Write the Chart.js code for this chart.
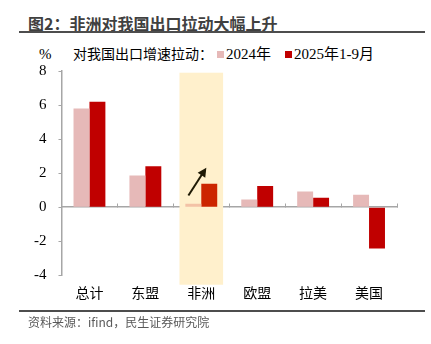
<!DOCTYPE html>
<html>
<head>
<meta charset="utf-8">
<script src="https://cdn.jsdelivr.net/npm/chart.js@4.4.0/dist/chart.umd.min.js"></script>
<style>
  body { margin: 0; width: 431px; height: 344px; background: #fff; position: relative; overflow: hidden;
         font-family: "Noto Sans CJK SC", sans-serif; }
  #title { position: absolute; left: 28px; top: 12px; font-size: 16px; font-weight: bold; color: #404040; line-height: 22px; white-space: nowrap; }
  .rule { position: absolute; left: 19px; width: 406px; height: 2px; background: #4d4d4d; }
  #legend { position: absolute; left: 39px; top: 44px; font-size: 15px; line-height: 20px; color: #000; white-space: nowrap;
            font-family: "Liberation Serif", "Noto Sans CJK SC", serif; }
  #legend .unit { display: inline-block; width: 34px; }
  #legend .lead { font-size: 14px; }
  #legend .sw { display: inline-block; width: 7px; height: 7px; margin: 0 2px 0 4px; vertical-align: 1px; }
  #legend .item { margin-right: 10px; }
  #source { position: absolute; left: 28px; top: 313px; font-size: 12px; color: #595959; line-height: 18px; white-space: nowrap; }
  #wrap { position: absolute; left: 0; top: 50px; width: 431px; height: 264px; }
</style>
</head>
<body>
<div id="title">图2：非洲对我国出口拉动大幅上升</div>
<div class="rule" style="top:31px"></div>
<div id="legend"></div>
<div id="wrap"><canvas id="c"></canvas></div>
<div class="rule" style="top:310px"></div>
<div id="source">资料来源：ifind，民生证券研究院</div>
<script>
const categories = ["总计", "东盟", "非洲", "欧盟", "拉美", "美国"];
const seriesNames = ["2024年", "2025年1-9月"];
const v2024 = [5.8, 1.86, 0.2, 0.45, 0.92, 0.73];
const v2025 = [6.2, 2.4, 1.38, 1.24, 0.55, -2.43];
const yTicks = [8, 6, 4, 2, 0, -2, -4];

const PINK = "#E6B9B8", RED = "#C00000";
const HL_PINK = "#F3C2A6", HL_RED = "#CC2500";
const highlightCat = "非洲";
const highlightRange = [-4.56, 7.9];
const arrow = { x0: 1.77, y0: 0.68, x1: 2.09, y1: 2.32 };

document.getElementById("legend").innerHTML =
  `<span class="unit">%</span><span class="lead">对我国出口增速拉动：</span>` +
  `<span class="sw" style="background:${PINK}"></span><span class="item">${seriesNames[0]}</span>` +
  `<span class="sw" style="background:${RED}"></span><span class="item">${seriesNames[1]}</span>`;

const hlIdx = categories.indexOf(highlightCat);
const colorsFor = (base, hl) => categories.map((c, i) => i === hlIdx ? hl : base);

const highlightPlugin = {
  id: "highlight",
  beforeDatasetsDraw(chart) {
    const { ctx, scales: { x, y } } = chart;
    const w = (x.getPixelForValue(1) - x.getPixelForValue(0)) * 0.78;
    const cx = x.getPixelForValue(hlIdx);
    const top = y.getPixelForValue(highlightRange[1]), bot = y.getPixelForValue(highlightRange[0]);
    ctx.save();
    ctx.fillStyle = "#FFF0CC";
    ctx.fillRect(cx - w / 2, top, w, bot - top);
    ctx.restore();
  },
  afterDatasetsDraw(chart) {
    const { ctx, scales: { x, y } } = chart;
    const ax = x.getPixelForValue(arrow.x0), ay = y.getPixelForValue(arrow.y0);
    const bx = x.getPixelForValue(arrow.x1), by = y.getPixelForValue(arrow.y1);
    const ang = Math.atan2(by - ay, bx - ax), hl = 9, hw = 4.5;
    ctx.save();
    ctx.strokeStyle = ctx.fillStyle = "#1f1a05";
    ctx.lineWidth = 2;
    ctx.beginPath();
    ctx.moveTo(ax, ay);
    ctx.lineTo(bx - Math.cos(ang) * hl * 0.8, by - Math.sin(ang) * hl * 0.8);
    ctx.stroke();
    ctx.beginPath();
    ctx.moveTo(bx, by);
    ctx.lineTo(bx - Math.cos(ang) * hl - Math.sin(ang) * hw, by - Math.sin(ang) * hl + Math.cos(ang) * hw);
    ctx.lineTo(bx - Math.cos(ang) * hl + Math.sin(ang) * hw, by - Math.sin(ang) * hl - Math.cos(ang) * hw);
    ctx.closePath();
    ctx.fill();
    ctx.restore();
  },
};

new Chart(document.getElementById("c"), {
  type: "bar",
  data: {
    labels: categories,
    datasets: [
      { label: seriesNames[0], data: v2024, backgroundColor: colorsFor(PINK, HL_PINK) },
      { label: seriesNames[1], data: v2025, backgroundColor: colorsFor(RED, HL_RED) },
    ],
  },
  options: {
    responsive: true, maintainAspectRatio: false, animation: false,
    layout: { padding: { left: 22, right: 34, top: 10, bottom: 4 } },
    datasets: { bar: { categoryPercentage: 0.57, barPercentage: 1 } },
    scales: {
      x: {
        grid: { display: false, drawTicks: false },
        border: { display: false },
        ticks: { color: "#000", padding: 9, font: { family: "'Noto Sans CJK SC'", size: 14 } },
      },
      x0: {
        type: "category", axis: "x", position: { y: 0 },
        grid: { display: true, drawOnChartArea: false, drawTicks: true, tickLength: -4, offset: true, color: "#A6A6A6", lineWidth: 1 },
        border: { display: true, color: "#A6A6A6", width: 1.5 },
        ticks: { display: false },
      },
      y: {
        min: -4, max: 8,
        afterBuildTicks: (s) => { s.ticks = yTicks.map(v => ({ value: v })); },
        grid: { drawOnChartArea: false, drawTicks: true, tickLength: 3, color: "#A6A6A6" },
        border: { display: true, color: "#A6A6A6", width: 1.5 },
        ticks: { color: "#000", padding: 12, font: { family: "'Liberation Serif', 'Times New Roman', serif", size: 15 } },
      },
    },
    plugins: { legend: { display: false }, tooltip: { enabled: false } },
  },
  plugins: [highlightPlugin],
});
</script>
</body>
</html>
